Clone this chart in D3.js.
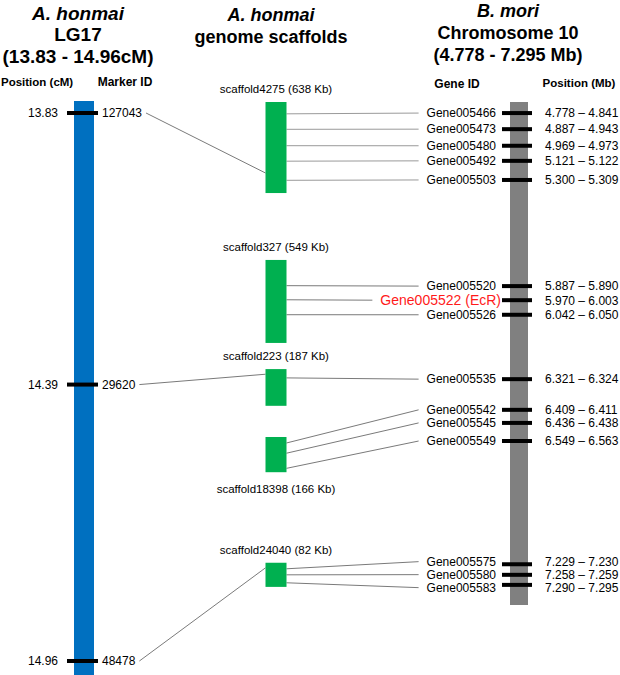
<!DOCTYPE html>
<html>
<head>
<meta charset="utf-8">
<script src="https://cdn.jsdelivr.net/npm/d3@7"></script>
<style>
  html, body { margin: 0; padding: 0; background: #fff; }
  svg { display: block; font-family: "Liberation Sans", Arial, sans-serif; }
</style>
</head>
<body>
<svg id="chart" width="620" height="675"></svg>
<script>
// ---------------- DATA ----------------
const markerIds = ["127043", "29620", "48478"];
const markerCM = [13.83, 14.39, 14.96];
const markerScaffold = [0, 2, 4];
const markerAnchor = [0.78, 0.14, 0.21];   // relative position on the scaffold

const scaffoldNames = ["scaffold4275", "scaffold327", "scaffold223", "scaffold18398", "scaffold24040"];
const scaffoldKb = [638, 549, 187, 166, 82];
const scaffoldMapStart = [0, 31.4, 53.1, 66.6, 91.6];   // schematic map units (0-100 along chromosome drawing)
const scaffoldMapEnd = [18.1, 47.9, 60.4, 73.6, 96.4];
const scaffoldLabelBelow = [false, false, false, true, false];

const geneIds = ["Gene005466", "Gene005473", "Gene005480", "Gene005492", "Gene005503",
                 "Gene005520", "Gene005522", "Gene005526", "Gene005535",
                 "Gene005542", "Gene005545", "Gene005549",
                 "Gene005575", "Gene005580", "Gene005583"];
const geneStartMb = [4.778, 4.887, 4.969, 5.121, 5.300, 5.887, 5.970, 6.042, 6.321, 6.409, 6.436, 6.549, 7.229, 7.258, 7.290];
const geneEndMb   = [4.841, 4.943, 4.973, 5.122, 5.309, 5.890, 6.003, 6.050, 6.324, 6.411, 6.438, 6.563, 7.230, 7.259, 7.295];
const geneMapPos  = [2.2, 5.4, 8.7, 11.7, 15.5, 36.6, 39.4, 42.3, 55.1, 61.2, 63.8, 67.4, 91.9, 94.0, 96.0];
const geneScaffold = [0, 0, 0, 0, 0, 1, 1, 1, 2, 3, 3, 3, 4, 4, 4];
const geneAnchor = [0.13, 0.30, 0.48, 0.65, 0.86, 0.31, 0.48, 0.66, 0.24, 0.17, 0.46, 0.89, 0.25, 0.50, 0.83];
const geneNotes = {"Gene005522": "EcR"};

const colTitles = [
  ["A. honmai", "LG17", "(13.83 - 14.96cM)"],
  ["A. honmai", "genome scaffolds"],
  ["B. mori", "Chromosome 10", "(4.778 - 7.295 Mb)"]
];

// ---------------- LAYOUT ----------------
const svg = d3.select("#chart");
const C = { blue: "#0070C0", green: "#00B050", gray: "#808080", link: "#7a7a7a", red: "#ff1a1a" };

const xLG = 84, lgW = 20;
const xSc = 276, scW = 21;
const xChr = 519, chrW = 18;

const yCM = d3.scaleLinear().domain([13.83, 14.96]).range([113, 661]);
const yMap = d3.scaleLinear().domain([0, 100]).range([102, 605]);

// Titles
const titleX = [78, 271, 508];
const titleY = [[13, 34, 56], [15, 37], [11, 33, 55]];
const titleSize = [19, 18, 18];
colTitles.forEach((lines, i) => {
  lines.forEach((t, j) => {
    svg.append("text")
      .attr("x", titleX[i]).attr("y", titleY[i][j]).attr("dy", "0.36em")
      .attr("text-anchor", "middle")
      .attr("font-size", titleSize[i]).attr("font-weight", "bold")
      .attr("font-style", j === 0 ? "italic" : "normal")
      .attr("fill", "#000").text(t);
  });
});

// Column headers
const headers = [["Position (cM)", 1, 82, "start", 11.5], ["Marker ID", 125, 82, "middle", 12],
                 ["Gene ID", 457, 84, "middle", 12], ["Position (Mb)", 579, 83, "middle", 11.5]];
headers.forEach(h => {
  svg.append("text").attr("x", h[1]).attr("y", h[2]).attr("dy", "0.36em")
    .attr("text-anchor", h[3]).attr("font-size", h[4]).attr("font-weight", "bold")
    .text(h[0]);
});

// Linkage group bar
svg.append("rect")
  .attr("x", xLG - lgW / 2).attr("y", yCM(13.83) - 12)
  .attr("width", lgW).attr("height", yCM(14.96) - yCM(13.83) + 26)
  .attr("fill", C.blue);

// Chromosome bar
svg.append("rect")
  .attr("x", xChr - chrW / 2).attr("y", yMap(0))
  .attr("width", chrW).attr("height", yMap(100) - yMap(0))
  .attr("fill", C.gray);

// Scaffold boxes
const scaffolds = scaffoldNames.map((n, i) => ({
  name: n, kb: scaffoldKb[i], y0: yMap(scaffoldMapStart[i]), y1: yMap(scaffoldMapEnd[i]), below: scaffoldLabelBelow[i]
}));

const markers = markerIds.map((id, i) => ({ id, cm: markerCM[i], sc: markerScaffold[i], a: markerAnchor[i] }));
const gLinks = svg.append("g");

// Markers
const gM = svg.append("g");
markers.forEach(m => {
  const y = yCM(m.cm);
  gM.append("line").attr("x1", xLG - 17).attr("x2", xLG + 14).attr("y1", y).attr("y2", y)
    .attr("stroke", "#000").attr("stroke-width", 4);
  gM.append("text").attr("x", 58).attr("y", y).attr("dy", "0.36em").attr("text-anchor", "end")
    .attr("font-size", 12).text(d3.format(".2f")(m.cm));
  const t = gM.append("text").attr("x", 102).attr("y", y).attr("dy", "0.36em")
    .attr("font-size", 12).text(m.id);
  const w = t.node().getComputedTextLength();
  const s = scaffolds[m.sc];
  gLinks.append("line")
    .attr("x1", 102 + w + 4).attr("y1", y)
    .attr("x2", xSc - scW / 2).attr("y2", s.y0 + m.a * (s.y1 - s.y0))
    .attr("stroke", C.link).attr("stroke-width", 1);
});

svg.selectAll("rect.sc").data(scaffolds).join("rect").attr("class", "sc")
  .attr("x", xSc - scW / 2).attr("y", d => d.y0)
  .attr("width", scW).attr("height", d => d.y1 - d.y0)
  .attr("fill", C.green);

svg.selectAll("text.sc").data(scaffolds).join("text").attr("class", "sc")
  .attr("x", xSc).attr("y", d => d.below ? d.y1 + 17 : d.y0 - 13)
  .attr("dy", "0.36em").attr("text-anchor", "middle").attr("font-size", 11.5)
  .text(d => `${d.name} (${d.kb} Kb)`);

// Genes
const genes = geneIds.map((id, i) => ({
  id, s: geneStartMb[i], e: geneEndMb[i], y: yMap(geneMapPos[i]), sc: geneScaffold[i], a: geneAnchor[i], note: geneNotes[id]
}));
// label positions with minimal spacing
const minGap = 13;
genes.forEach(g => g.ly = g.y);
for (let iter = 0; iter < 50; iter++) {
  for (let i = 1; i < genes.length; i++) {
    const d = genes[i].ly - genes[i - 1].ly;
    if (d < minGap) {
      const push = (minGap - d) / 2;
      genes[i - 1].ly -= push; genes[i].ly += push;
    }
  }
}

const gG = svg.append("g");
genes.forEach(g => {
  gG.append("line").attr("x1", xChr - 17).attr("x2", xChr + 13).attr("y1", g.y).attr("y2", g.y)
    .attr("stroke", "#000").attr("stroke-width", 4);
  const hl = !!g.note;
  const t = gG.append("text")
    .attr("x", hl ? 501 : 496).attr("y", g.ly).attr("dy", "0.36em").attr("text-anchor", "end")
    .attr("font-size", hl ? 14 : 12).attr("fill", hl ? C.red : "#000")
    .text(hl ? `${g.id} (${g.note})` : g.id);
  const w = t.node().getComputedTextLength();
  const xEnd = (hl ? 501 : 496) - w - 8;
  gG.append("text").attr("x", 545).attr("y", g.ly).attr("dy", "0.36em")
    .attr("font-size", 12).text(`${g.s.toFixed(3)} \u2013 ${g.e.toFixed(3)}`);
  const s = scaffolds[g.sc];
  gLinks.append("line")
    .attr("x1", xSc + scW / 2).attr("y1", s.y0 + g.a * (s.y1 - s.y0))
    .attr("x2", xEnd).attr("y2", g.ly)
    .attr("stroke", g.sc === 0 ? "#9a9a9a" : C.link).attr("stroke-width", 1);
});
</script>
</body>
</html>
